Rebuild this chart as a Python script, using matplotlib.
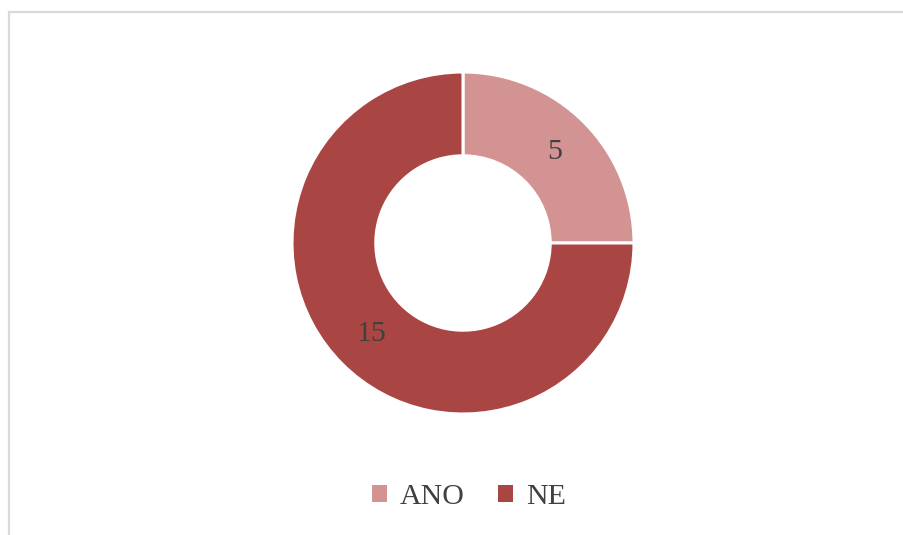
import matplotlib
matplotlib.use("Agg")
import matplotlib.pyplot as plt
from matplotlib.patches import Rectangle

categories = ["ANO", "NE"]
values = [5, 15]
colors = ["#D39393", "#A94543"]

W, H = 904, 535
fig = plt.figure(figsize=(W / 100, H / 100), dpi=100)
fig.patch.set_facecolor("white")

# border
fig.patches.append(Rectangle((9 / W, -0.2), 2, 1 - 12.5 / H + 0.2, transform=fig.transFigure,
                             fill=False, edgecolor="#D9D9D9", linewidth=1.6, zorder=0))

cx, cy, r = 463, 243, 171
ax = fig.add_axes([(cx - r) / W, (H - cy - r) / H, 2 * r / W, 2 * r / H])
total = sum(values)
wedges, texts, autotexts = ax.pie(
    values, colors=colors, startangle=90, counterclock=False, radius=1,
    wedgeprops=dict(width=0.49, edgecolor="white", linewidth=2.2),
    autopct=lambda p: f"{round(p * total / 100)}", pctdistance=0.755,
    textprops=dict(fontsize=21.5, color="#404040", family="Liberation Serif"))
ax.set_xlim(-1, 1)
ax.set_ylim(-1, 1)
ax.set_aspect("equal")
ax.axis("off")

leg = fig.legend(wedges, categories, loc="center", bbox_to_anchor=(469 / W, 1 - 497 / H),
                 ncol=2, frameon=False, handlelength=0.5, handleheight=0.5,
                 handletextpad=0.45, columnspacing=1.1,
                 prop=dict(family="Liberation Serif", size=21.5))
for t in leg.get_texts():
    t.set_color("#404040")
for h in leg.legend_handles:
    h.set_edgecolor("none")

fig.savefig("out.png", dpi=100, facecolor="white")
